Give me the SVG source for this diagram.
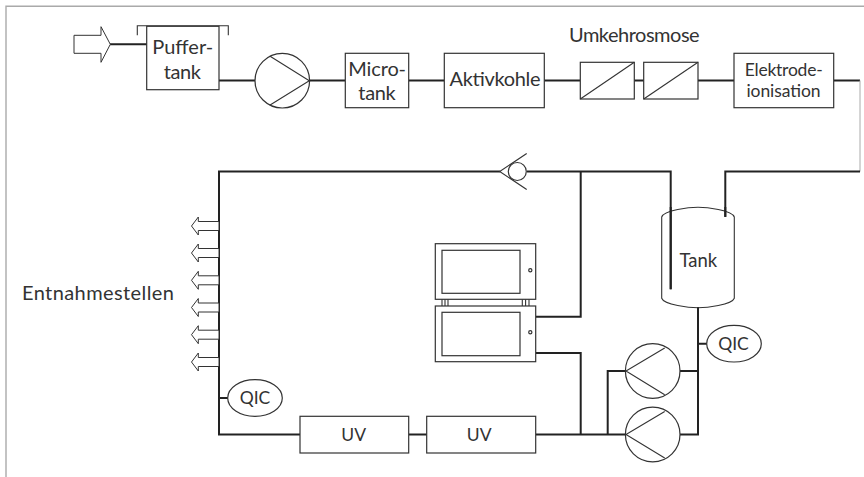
<svg xmlns="http://www.w3.org/2000/svg" width="864" height="477" viewBox="0 0 864 477">
<style>
text{font-family:"Lato","Liberation Sans",sans-serif;fill:#333;font-size:20px;text-anchor:middle}
.s{font-size:17.5px}
.t{font-size:18.5px}
.b{fill:#fff;stroke:#333;stroke-width:1.2}
.n{fill:none;stroke:#333;stroke-width:1.1}
.p{fill:none;stroke:#222;stroke-width:2}
.a{fill:#fff;stroke:#333;stroke-width:1}
</style>
<defs>
<polygon id="out" class="a" points="219,-4.5 198.3,-4.5 198.3,-9 191.5,0 198.3,9 198.3,4.5 219,4.5"/>
</defs>
<path d="M864 6.3H6V477" fill="none" stroke="#aaa" stroke-width="1.4"/>
<g id="connectors">
<path class="p" d="M110 44.3H147M219 80.5H255M309 80.5H345M409 80.5H444M544 80.5H580M634 80.5H644M698 80.5H734M834 80.5H860"/>
<path d="M860 80.5V171.5" fill="none" stroke="#aaa" stroke-width="1"/>
<path class="p" d="M860 171.5H725.3V216.7"/>
<path class="p" d="M500 171.5H219V434.5H300"/>
<path class="p" d="M527 171.5H670.7V289.3"/>
<path class="p" d="M580.7 171.5V316.7H535.7"/>
<path class="p" d="M535.7 353H580.7V434.5"/>
<path class="p" d="M409 434.5H427M535.7 434.5H626M607.7 434.5V371H626"/>
<path class="p" d="M698 307V434.5H680M680 371H698M698 343.7H707M219 398H228"/>
</g>
<g id="inlet"><polygon class="a" points="74,35.3 101,35.3 101,26.7 110.3,44.3 101,62.3 101,53.3 74,53.3"/></g>
<g id="puffertank">
<path class="n" d="M137.3 35.3V25.8H228.3V35.3"/>
<rect class="b" x="146.7" y="26.3" width="72.3" height="63.4"/>
<text x="182.7" y="54" textLength="61">Puffer-</text><text x="182.3" y="79" textLength="37.3">tank</text>
</g>
<g id="pump1">
<circle class="b" cx="282.3" cy="80.7" r="27.3"/>
<path class="n" d="M269.7 56L309.3 80.7L269.7 105.3"/>
</g>
<g id="microtank">
<rect class="b" x="345.3" y="53.3" width="63.4" height="54.4"/>
<text x="377.2" y="75.7" textLength="57.7">Micro-</text><text x="377" y="100" textLength="37.3">tank</text>
</g>
<g id="aktivkohle">
<rect class="b" x="444.3" y="53.3" width="100" height="54.4"/>
<text x="495" y="86" textLength="91">Aktivkohle</text>
</g>
<g id="umkehrosmose">
<text x="634.3" y="42" textLength="130.7">Umkehrosmose</text>
<rect class="b" x="580.3" y="62.3" width="54" height="36.7"/>
<path class="n" d="M580.3 99L634.3 62.3"/>
<rect class="b" x="643.7" y="62.3" width="54.3" height="36.7"/>
<path class="n" d="M643.7 99L698 62.3"/>
</g>
<g id="elektrodeionisation">
<rect class="b" x="734" y="53.3" width="99.7" height="54.4"/>
<text class="s" x="783.7" y="76" textLength="78">Elektrode-</text><text class="s" x="783.5" y="97.3" textLength="74">ionisation</text>
</g>
<g id="rueckschlagventil">
<path class="n" d="M526.7 153.5L499.7 171.5L526.7 189.5"/>
<circle class="b" cx="517.3" cy="171.5" r="9"/>
</g>
<g id="tank">
<path class="n" d="M661.7 217C664 210 690 207.3 698 207.3C706 207.3 732 210 734.3 217V298.3C732 305 706 307.7 698 307.7C690 307.7 664 305 661.7 298.3Z"/>
<path class="p" d="M670.7 207V289.3M725.3 207V217"/>
<text class="t" x="698.3" y="267">Tank</text>
</g>
<g id="entnahmestellen">
<text x="98" y="299.7" textLength="152">Entnahmestellen</text>
<use href="#out" y="226"/><use href="#out" y="253"/><use href="#out" y="280.3"/><use href="#out" y="307.5"/><use href="#out" y="334.7"/><use href="#out" y="362"/>
</g>
<g id="qic1">
<ellipse class="b" cx="255" cy="398" rx="27.3" ry="18.3"/>
<text class="s" x="255" y="404.3">QIC</text>
</g>
<g id="qic2">
<ellipse class="b" cx="734" cy="343.7" rx="27.3" ry="18.3"/>
<text class="s" x="733.5" y="350">QIC</text>
</g>
<g id="uv1">
<rect class="b" x="300" y="416.3" width="108.7" height="36.7"/>
<text class="s" x="353.7" y="441.3">UV</text>
</g>
<g id="uv2">
<rect class="b" x="426.7" y="416.3" width="109" height="36.7"/>
<text class="s" x="479.2" y="441.3">UV</text>
</g>
<g id="monitor1">
<path class="n" d="M442 299.3V306M448 299.3V306M445 299.3V306M522.3 299.3V306M529 299.3V306M525.6 299.3V306"/>
<rect class="b" x="435.3" y="243.7" width="100.4" height="55.6"/>
<rect class="b" x="442" y="250.3" width="78" height="43"/>
<circle class="b" cx="530.3" cy="270.3" r="1.6"/>
</g>
<g id="monitor2">
<rect class="b" x="435.3" y="306" width="100.4" height="55.7"/>
<rect class="b" x="442" y="312.3" width="78" height="43.4"/>
<circle class="b" cx="530.3" cy="332.3" r="1.6"/>
</g>
<g id="pump2">
<circle class="b" cx="652.7" cy="371" r="27.3"/>
<path class="n" d="M664.7 348L626 371L664.7 394.7"/>
</g>
<g id="pump3">
<circle class="b" cx="652.7" cy="434.5" r="27.3"/>
<path class="n" d="M664.7 411.5L626 434.5L664.7 458"/>
</g>
</svg>
